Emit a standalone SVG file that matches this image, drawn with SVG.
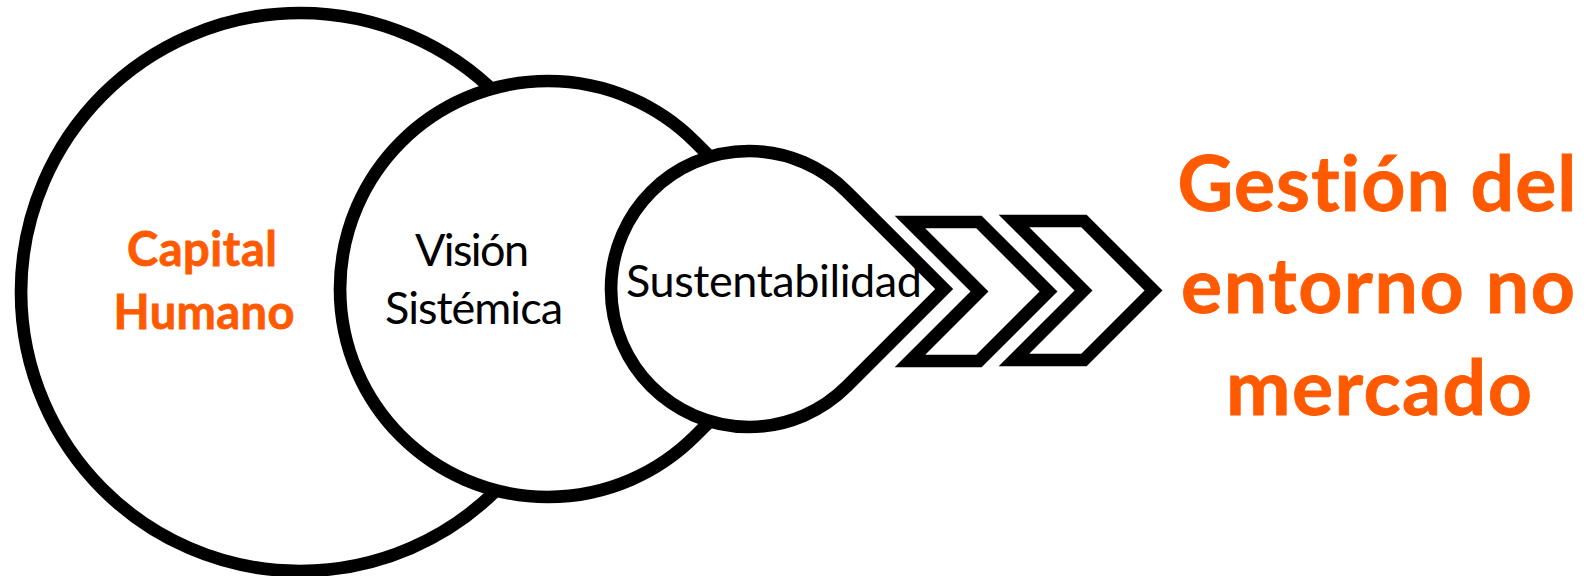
<svg xmlns="http://www.w3.org/2000/svg" width="1591" height="576" viewBox="0 0 1591 576">
<style>
.shape{fill:#fff;stroke:#000;stroke-width:12.7;stroke-linejoin:miter;stroke-miterlimit:10}
.or{font-family:Lato,"Open Sans","Liberation Sans",sans-serif;font-weight:bold;fill:#FF5A00;text-anchor:middle;font-variant-ligatures:none;stroke:#FF5A00;stroke-width:0.8}
.bk{font-family:Lato,"Open Sans","Liberation Sans",sans-serif;fill:#000;text-anchor:middle;font-variant-ligatures:none}
</style>
<rect width="1591" height="576" fill="#fff"/>
<g id="capital-humano">
<path class="shape" d="M497.3,94.7 L694.6,292 L497.3,489.3 A279,279 0 1 1 497.3,94.7 Z"/>
<text class="or" font-size="47" x="202" y="266" textLength="150">Capital</text>
<text class="or" font-size="47" x="204" y="329" textLength="181">Humano</text>
</g>
<g id="vision-sistemica">
<path class="shape" d="M695.1,141.9 L842.2,289 L695.1,436.1 A208,208 0 1 1 695.1,141.9 Z"/>
<text class="bk" font-size="45" x="472" y="266" textLength="114">Visión</text>
<text class="bk" font-size="45" x="474" y="324" textLength="178">Sistémica</text>
</g>
<g id="sustentabilidad">
<path class="shape" d="M846.6,191.4 L944.2,289 L846.6,386.6 A138,138 0 1 1 846.6,191.4 Z"/>
<text class="bk" font-size="45" x="774" y="297" textLength="296">Sustentabilidad</text>
</g>
<g id="connectors">
<path class="shape" d="M910,222 L979,222 L1048.5,291.5 L979,361 L910,361 L979.5,291.5 Z"/>
<path class="shape" d="M1014,221 L1084,221 L1153.5,290.5 L1084,360 L1014,360 L1083.5,290.5 Z"/>
</g>
<g id="gestion">
<text class="or" font-size="77" x="1377" y="211" textLength="399">Gestión del</text>
<text class="or" font-size="77" x="1378" y="313" textLength="394">entorno no</text>
<text class="or" font-size="77" x="1379" y="415" textLength="306">mercado</text>
</g>
</svg>
